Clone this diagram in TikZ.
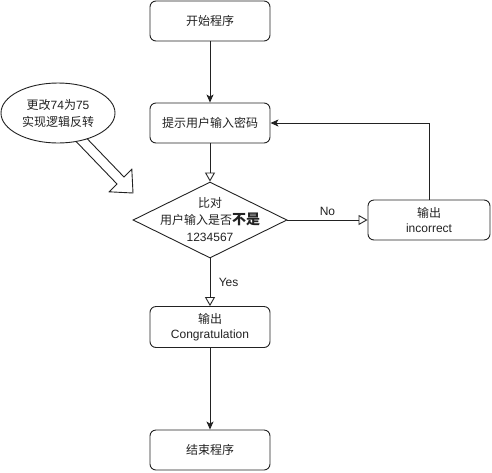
\documentclass[tikz,border=0pt]{standalone}
\usepackage{fontspec}
\setmainfont{Liberation Sans}
\newfontfamily\cjk{Noto Sans CJK SC}
\usetikzlibrary{arrows.meta,shapes.geometric}
\definecolor{ink}{HTML}{222222}
\begin{document}
\begin{tikzpicture}[x=1pt,y=-1pt,
  font=\fontsize{12}{15}\selectfont, text=ink,
  box/.style={draw=ink, line width=0.9pt, rounded corners=6pt, minimum width=120pt, minimum height=40pt, inner sep=0pt, align=center},
  flow/.style={draw=ink, line width=0.9pt, -{Stealth[length=8pt,width=7pt,inset=2pt]}},
  hflow/.style={draw=ink, line width=0.9pt, -{Triangle[open,length=9pt,width=10pt]}},
  lbl/.style={font=\fontsize{12}{14}\selectfont},
]
\useasboundingbox (0,0) rectangle (492,472);

% nodes
\node[box] (start) at (210,21) {\cjk 开始程序};
\node[box] (prompt) at (210,123) {\cjk 提示用户输入密码};
\node[draw=ink, line width=0.9pt, diamond, minimum width=154pt, minimum height=76pt, inner sep=0pt] (cmp) at (210,220) {};
\node[align=center, inner sep=0pt, font=\fontsize{12}{17}\selectfont] (cmptext) at (cmp.center)
  {{\cjk 比对}\\{\cjk 用户输入是否{\fontsize{14}{17}\selectfont\bfseries 不是}}\\1234567};
\node[box, minimum width=122pt] (inc) at (429,220) {{\cjk 输出}\\incorrect};
\node[box, minimum height=41pt] (congr) at (210,327) {{\cjk 输出}\\Congratulation};
\node[box] (endn) at (210,450) {\cjk 结束程序};

% block arrow (annotation pointer)
\draw[draw=ink, line width=0.9pt, fill=white]
  (73.5,124.5) -- (124.0,177.0) -- (131.8,169.2) -- (133,193) -- (109.2,191.8) -- (117.0,184.0) -- (66.5,131.5) -- cycle;
\node[draw=ink, line width=0.9pt, fill=white, ellipse, minimum width=114pt, minimum height=60pt, inner sep=0pt, align=center, font=\fontsize{12}{17}\selectfont] (note) at (58,113)
  {{\cjk 更改}74{\cjk 为}75\\{\cjk 实现逻辑反转}};

% connectors
\draw[flow] (start) -- (prompt);
\draw[hflow] (prompt) -- (cmp);
\draw[hflow] (cmp.east) -- node[lbl, above, inner sep=4pt] {No} (inc.west);
\draw[hflow] (cmp.south) -- node[lbl, right, xshift=5pt] {Yes} (congr.north);
\draw[flow] (inc.north) |- (prompt.east);
\draw[flow] (congr) -- (endn);
\end{tikzpicture}
\end{document}
